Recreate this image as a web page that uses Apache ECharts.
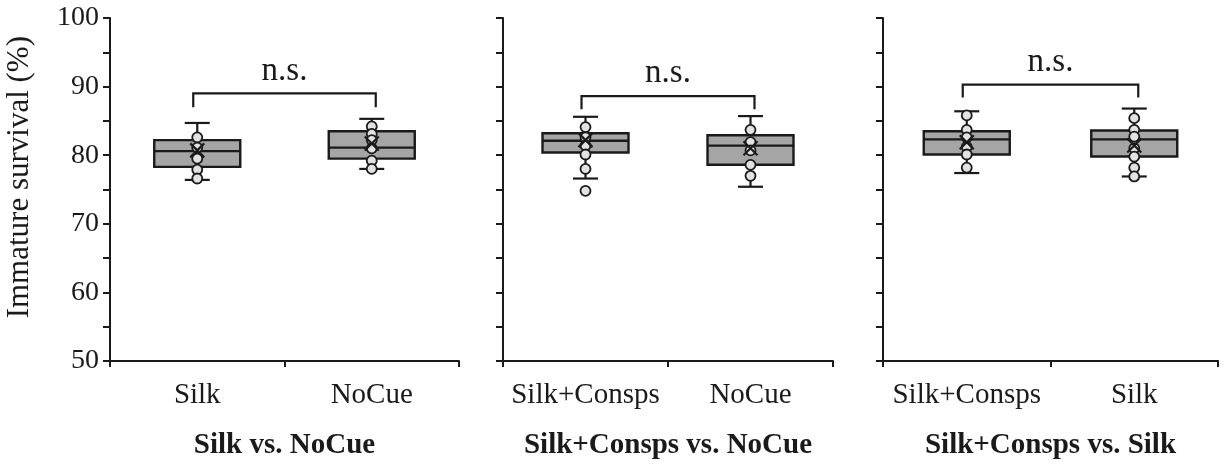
<!DOCTYPE html>
<html>
<head>
<meta charset="utf-8">
<script src="https://cdn.jsdelivr.net/npm/echarts@6/dist/echarts.min.js"></script>
<style>html,body{margin:0;padding:0;background:#fff}#c{width:1225px;height:473px}</style>
</head>
<body>
<div id="c"></div>
<script>
// ---- data ----
const yTicks = [50, 60, 70, 80, 90, 100];
const cats1 = ['Silk', 'NoCue'];
const cats2 = ['Silk+Consps', 'NoCue'];
const cats3 = ['Silk+Consps', 'Silk'];
const panelTitles = ['Silk vs. NoCue', 'Silk+Consps vs. NoCue', 'Silk+Consps vs. Silk'];
const yTitle = 'Immature survival (%)';
// [min, Q1, median, Q3, max]
const box1 = [[76.4, 78.3, 80.6, 82.2, 84.7], [78.0, 79.5, 81.1, 83.5, 85.3]];
const box2 = [[76.6, 80.4, 82.1, 83.2, 85.6], [75.4, 78.6, 81.4, 82.9, 85.7]];
const box3 = [[77.4, 80.1, 82.3, 83.5, 86.4], [76.9, 79.8, 82.3, 83.6, 86.8]];
const pts1a = [82.6, 81.1, 79.5, 77.9, 76.6];
const pts1b = [84.2, 83.1, 82.2, 81.0, 79.2, 78.0];
const pts2a = [84.1, 82.6, 81.4, 80.1, 78.0, 74.8];
const pts2b = [83.7, 81.9, 80.7, 78.6, 77.0];
const pts3a = [85.8, 83.7, 82.6, 81.2, 80.1, 78.2];
const pts3b = [85.4, 83.7, 82.7, 81.0, 79.8, 78.2, 76.9];
const means1 = [80.7, 81.7];
const means2 = [82.2, 81.0];
const means3 = [81.9, 81.4];
// bracket: [bar y, drop end y]
const bracket1 = [89.0, 87.0];
const bracket2 = [88.6, 86.7];
const bracket3 = [90.3, 88.4];
const sigLabel = 'n.s.';

// ---- build ----
const FONT = 'Liberation Serif';
const INK = '#1a1a1a';
const grids = [
  {left: 110, top: 18, width: 349, height: 343},
  {left: 503, top: 18, width: 330, height: 343},
  {left: 883, top: 18, width: 335, height: 343}
];
const catsAll = [cats1, cats2, cats3];
const boxes = [box1, box2, box3];
const ptsAll = [[pts1a, pts1b], [pts2a, pts2b], [pts3a, pts3b]];
const meansAll = [means1, means2, means3];
const brackets = [bracket1, bracket2, bracket3];

const xAxes = catsAll.map((c, i) => ({
  type: 'category', gridIndex: i, data: c, boundaryGap: true,
  axisLine: {lineStyle: {color: INK, width: 2}},
  axisTick: {show: true, length: 6, lineStyle: {color: INK, width: 2}},
  axisLabel: {interval: 0, color: INK, fontFamily: FONT, fontSize: 29, margin: 20},
  name: panelTitles[i], nameLocation: 'middle', nameGap: 70,
  nameTextStyle: {color: INK, fontFamily: FONT, fontSize: 29, fontWeight: 'bold'}
}));
const yAxes = grids.map((g, i) => ({
  type: 'value', gridIndex: i, min: yTicks[0], max: yTicks[yTicks.length - 1], interval: 10,
  axisLine: {show: true, lineStyle: {color: INK, width: 2}},
  axisTick: {show: true, length: 7, lineStyle: {color: INK, width: 2}},
  minorTick: {show: true, splitNumber: 2, length: 7, lineStyle: {color: INK, width: 2}},
  splitLine: {show: false},
  axisLabel: {show: i === 0, color: INK, fontFamily: FONT, fontSize: 28, margin: 11}
}));

const series = [];
boxes.forEach((b, i) => {
  series.push({
    type: 'custom', xAxisIndex: i, yAxisIndex: i, z: 2,
    data: b.map((v, k) => [k].concat(v)),
    renderItem: function (params, api) {
      const k = api.value(0);
      const pMin = api.coord([k, api.value(1)]);
      const pQ1 = api.coord([k, api.value(2)]);
      const pMed = api.coord([k, api.value(3)]);
      const pQ3 = api.coord([k, api.value(4)]);
      const pMax = api.coord([k, api.value(5)]);
      const cx = pMed[0], hw = 43, cw = 12.5;
      const ls = {stroke: INK, lineWidth: 2.2, fill: null};
      return {type: 'group', children: [
        {type: 'line', shape: {x1: cx, y1: pMax[1], x2: cx, y2: pMin[1]}, style: ls},
        {type: 'line', shape: {x1: cx - cw, y1: pMax[1], x2: cx + cw, y2: pMax[1]}, style: ls},
        {type: 'line', shape: {x1: cx - cw, y1: pMin[1], x2: cx + cw, y2: pMin[1]}, style: ls},
        {type: 'rect', shape: {x: cx - hw, y: pQ3[1], width: 2 * hw, height: pQ1[1] - pQ3[1]},
          style: {fill: '#a5a5a5', stroke: INK, lineWidth: 2.4}},
        {type: 'line', shape: {x1: cx - hw, y1: pMed[1], x2: cx + hw, y2: pMed[1]}, style: {stroke: INK, lineWidth: 2.4}}
      ]};
    }
  });
  const pts = [];
  ptsAll[i].forEach((arr, k) => arr.forEach(v => pts.push([k, v])));
  series.push({
    type: 'scatter', xAxisIndex: i, yAxisIndex: i, z: 3, data: pts,
    symbol: 'circle', symbolSize: 10,
    itemStyle: {color: '#e2e2e2', borderColor: INK, borderWidth: 1.8, opacity: 1}
  });
  series.push({
    type: 'scatter', xAxisIndex: i, yAxisIndex: i, z: 4,
    data: meansAll[i].map((v, k) => [k, v]),
    symbol: 'path://M0,0L10,10M10,0L0,10', symbolSize: 14,
    itemStyle: {color: 'rgba(0,0,0,0)', borderColor: INK, borderWidth: 2.2, opacity: 1}
  });
  series.push({
    type: 'custom', xAxisIndex: i, yAxisIndex: i, z: 5,
    data: [[0, 1, brackets[i][0], brackets[i][1]]],
    renderItem: function (params, api) {
      const a = api.coord([api.value(0), api.value(2)]);
      const b2 = api.coord([api.value(1), api.value(2)]);
      const d = api.coord([api.value(0), api.value(3)]);
      const x1 = a[0] - 4, x2 = b2[0] + 4, y = a[1], yd = d[1];
      return {type: 'group', children: [
        {type: 'polyline', shape: {points: [[x1, yd], [x1, y], [x2, y], [x2, yd]]},
          style: {stroke: INK, lineWidth: 2.2, fill: null}},
        {type: 'text', style: {text: sigLabel, x: (x1 + x2) / 2, y: y - 6, align: 'center', verticalAlign: 'bottom',
          fill: INK, font: '33px "Liberation Serif"'}}
      ]};
    }
  });
});

const chart = echarts.init(document.getElementById('c'), null, {renderer: 'canvas'});
chart.setOption({
  backgroundColor: '#ffffff',
  animation: false,
  grid: grids,
  xAxis: xAxes,
  yAxis: yAxes,
  series: series,
  graphic: [{
    type: 'text', left: 4, top: 36, rotation: Math.PI / 2,
    style: {text: yTitle, fill: INK, font: '31px "Liberation Serif"'}
  }]
});
</script>
</body>
</html>
